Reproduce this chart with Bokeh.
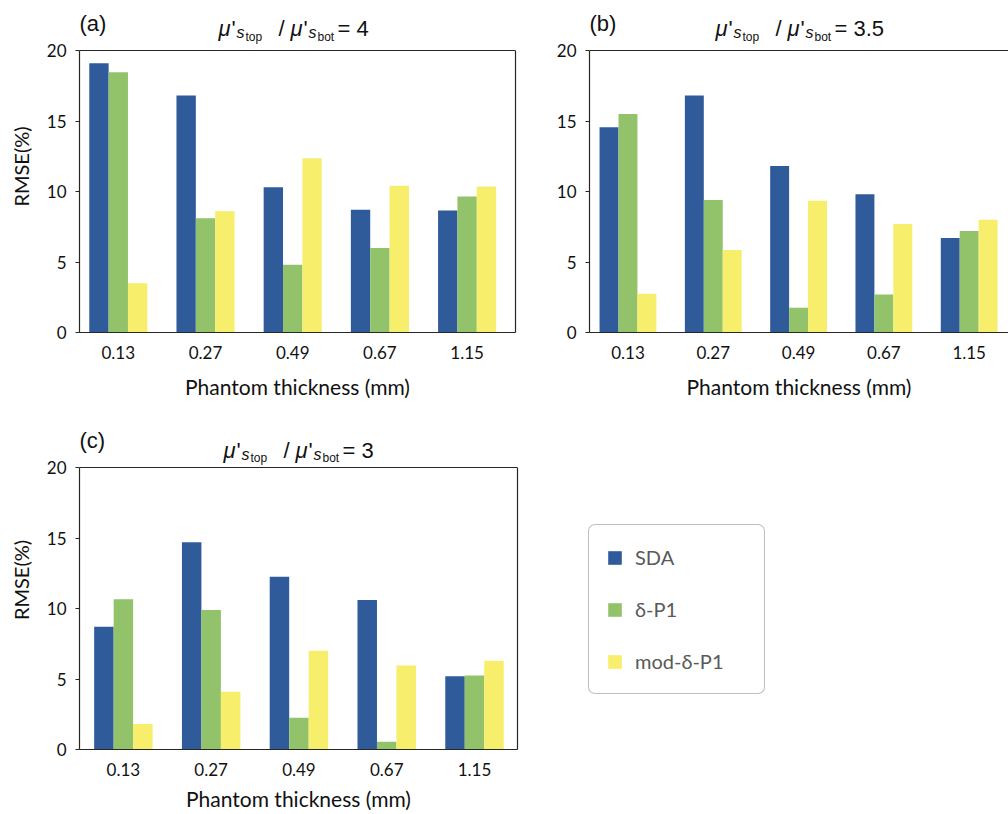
from bokeh.plotting import figure
from bokeh.models import (Range1d, FixedTicker, Label, Legend, LegendItem, LinearAxis,
                          ColumnDataSource, Span)
from bokeh.transform import dodge
from bokeh.layouts import column, row
from bokeh.embed import file_html
from bokeh.resources import INLINE

# ---------------- data ----------------
categories = ["0.13", "0.27", "0.49", "0.67", "1.15"]
series_names = ["SDA", "δ-P1", "mod-δ-P1"]

a_sda = [19.1, 16.8, 10.3, 8.7, 8.65]
a_dp1 = [18.45, 8.1, 4.8, 6.0, 9.65]
a_mod = [3.5, 8.6, 12.35, 10.4, 10.35]

b_sda = [14.55, 16.8, 11.8, 9.8, 6.7]
b_dp1 = [15.5, 9.4, 1.75, 2.7, 7.2]
b_mod = [2.75, 5.85, 9.35, 7.7, 8.0]

c_sda = [8.7, 14.7, 12.25, 10.6, 5.2]
c_dp1 = [10.65, 9.9, 2.25, 0.55, 5.25]
c_mod = [1.8, 4.1, 7.0, 5.95, 6.3]

y_ticks = [0, 5, 10, 15, 20]
y_max = 20
ratios = ["4", "3.5", "3"]
panel_tags = ["(a)", "(b)", "(c)"]
x_title = "Phantom thickness (mm)"
y_title = "RMSE(%)"

colors = ["#2f5b9b", "#92c36b", "#f7ee6b"]
TICK_FONT = "Lato"
LINE = "#262626"
BOX_H = 282  # pixel height of the 0..20 box


def bars(p, sda, dp1, mod):
    src = ColumnDataSource(dict(x=list(range(len(categories))), sda=sda, dp1=dp1, mod=mod))
    rends = []
    for key, off, col in zip(["sda", "dp1", "mod"], [-0.222, 0.0, 0.222], colors):
        r = p.vbar(x=dodge("x", off, range=p.x_range), top=key, bottom=0, width=0.222,
                   source=src, fill_color=col, line_color=None)
        rends.append(r)
    return rends


def make_panel(sda, dp1, mod, width, height, bl, br, bb, xr, ylabel, right_line,
               lab_standoff, title_standoff):
    frame_h = height - bb
    y_end = y_max * frame_h / BOX_H
    p = figure(width=width, height=height, x_range=Range1d(*xr), y_range=Range1d(0, y_end),
               output_backend="svg", toolbar_location=None,
               min_border_left=bl, min_border_right=br, min_border_top=0, min_border_bottom=bb)
    p.background_fill_color = "white"
    p.border_fill_color = "white"
    p.outline_line_color = None
    p.xgrid.visible = False
    p.ygrid.visible = False
    rends = bars(p, sda, dp1, mod)

    # y axis
    ya = p.yaxis[0]
    ya.ticker = FixedTicker(ticks=y_ticks)
    ya.bounds = (0, y_max)
    ya.major_tick_out = 4
    ya.major_tick_in = 0
    ya.minor_tick_out = 0
    ya.minor_tick_in = 0
    ya.major_label_standoff = 9
    ya.major_label_text_font = TICK_FONT
    ya.major_label_text_font_size = "17px"
    ya.major_label_text_color = "#111111"
    ya.axis_line_color = LINE
    ya.axis_line_width = 1.2
    ya.major_tick_line_color = LINE
    if ylabel:
        ya.axis_label = y_title
        ya.axis_label_text_font = TICK_FONT
        ya.axis_label_text_font_size = "20px"
        ya.axis_label_text_font_style = "normal"
        ya.axis_label_text_color = "#111111"
        ya.axis_label_standoff = 11

    # x axis
    xa = p.xaxis[0]
    xa.ticker = FixedTicker(ticks=list(range(len(categories))))
    xa.major_label_overrides = {i: c for i, c in enumerate(categories)}
    xa.major_tick_out = 0
    xa.major_tick_in = 0
    xa.minor_tick_out = 0
    xa.minor_tick_in = 0
    xa.major_label_standoff = lab_standoff
    xa.major_label_text_font = TICK_FONT
    xa.major_label_text_font_size = "17px"
    xa.major_label_text_color = "#111111"
    xa.axis_line_color = LINE
    xa.axis_line_width = 1.2
    xa.axis_label = x_title
    xa.axis_label_text_font = TICK_FONT
    xa.axis_label_text_font_size = "21px"
    xa.axis_label_text_font_style = "normal"
    xa.axis_label_text_color = "#111111"
    xa.axis_label_standoff = title_standoff

    # top edge of the box
    p.add_layout(Span(location=y_max, dimension="width", line_color=LINE, line_width=1.2))
    if right_line:
        ra = LinearAxis(ticker=FixedTicker(ticks=[]), bounds=(0, y_max), axis_line_color=LINE,
                        axis_line_width=1.2, major_tick_out=0, major_tick_in=0,
                        minor_tick_out=0, minor_tick_in=0)
        p.add_layout(ra, "right")
    return p, rends


def add_title(p, tag, ratio, tag_dx, form_dx, tag_above, base_above):
    p.add_layout(Label(x=tag_dx, y=BOX_H + tag_above, x_units="screen", y_units="screen",
                       text=tag, text_font="Liberation Sans", text_font_size="22px",
                       text_color="#111111", text_align="left", text_baseline="middle"))
    y0 = BOX_H + base_above
    pieces = [
        ("μ", 0, 0, "22px", "italic"),
        ("'", 13, 0, "22px", "normal"),
        ("s", 18, -4, "16px", "italic"),
        ("top", 27, -8, "12px", "normal"),
        ("/", 60, 0, "22px", "normal"),
        ("μ", 72, 0, "22px", "italic"),
        ("'", 85, 0, "22px", "normal"),
        ("s", 90, -4, "16px", "italic"),
        ("bot", 99, -8, "12px", "normal"),
        ("= " + ratio, 119, 0, "22px", "normal"),
    ]
    for txt, dx, dy, fs, st in pieces:
        p.add_layout(Label(x=form_dx + dx, y=y0 + dy, x_units="screen", y_units="screen",
                           text=txt, text_font="Liberation Sans", text_font_size=fs,
                           text_font_style=st, text_color="#111111",
                           text_align="left", text_baseline="alphabetic"))


# panel (a): page x 0..520, y 0..410
pa, ra_ = make_panel(a_sda, a_dp1, a_mod, 520, 410, 79, 5, 78, (-0.445, 4.555),
                     True, True, 13, 12)
add_title(pa, panel_tags[0], ratios[0], 0, 139, 27.5, 21.7)

# panel (b): page x 520..1008
pb, rb_ = make_panel(b_sda, b_dp1, b_mod, 488, 410, 69, 0, 78, (-0.451, 4.461),
                     False, False, 13, 12)
add_title(pb, panel_tags[1], ratios[1], 0, 126, 27.5, 21.7)

# panel (c): page x 0..520, y 410..814
pc, rc_ = make_panel(c_sda, c_dp1, c_mod, 520, 404, 79, 3, 65, (-0.5, 4.49),
                     True, True, 13, 7)
add_title(pc, panel_tags[2], ratios[2], 0, 144, 27, 17.5)

# legend area: page x 520..1008, y 410..814 (its bars lie outside the visible range)
pl = figure(width=488, height=404, x_range=Range1d(-30, -29), y_range=Range1d(0, 1),
            x_axis_type=None, y_axis_type=None, output_backend="svg", toolbar_location=None,
            min_border=0)
pl.outline_line_color = None
pl.xgrid.visible = False
pl.ygrid.visible = False
leg_rends = bars(pl, c_sda, c_dp1, c_mod)
legend = Legend(items=[LegendItem(label=n, renderers=[r]) for n, r in zip(series_names, leg_rends)],
                location=(68, 55), orientation="vertical",
                glyph_width=17, glyph_height=17, label_height=30, label_width=112,
                label_standoff=12, spacing=22, padding=17, margin=0,
                border_line_color="#7f7f7f", border_line_width=1.3,
                background_fill_color="white", background_fill_alpha=1,
                label_text_font=TICK_FONT, label_text_font_size="20px",
                label_text_color="#595959")
try:
    legend.border_radius = 7
except Exception:
    pass
pl.add_layout(legend)

layout = column(row(pa, pb), row(pc, pl))
open("out.html", "w").write(file_html(layout, INLINE))
